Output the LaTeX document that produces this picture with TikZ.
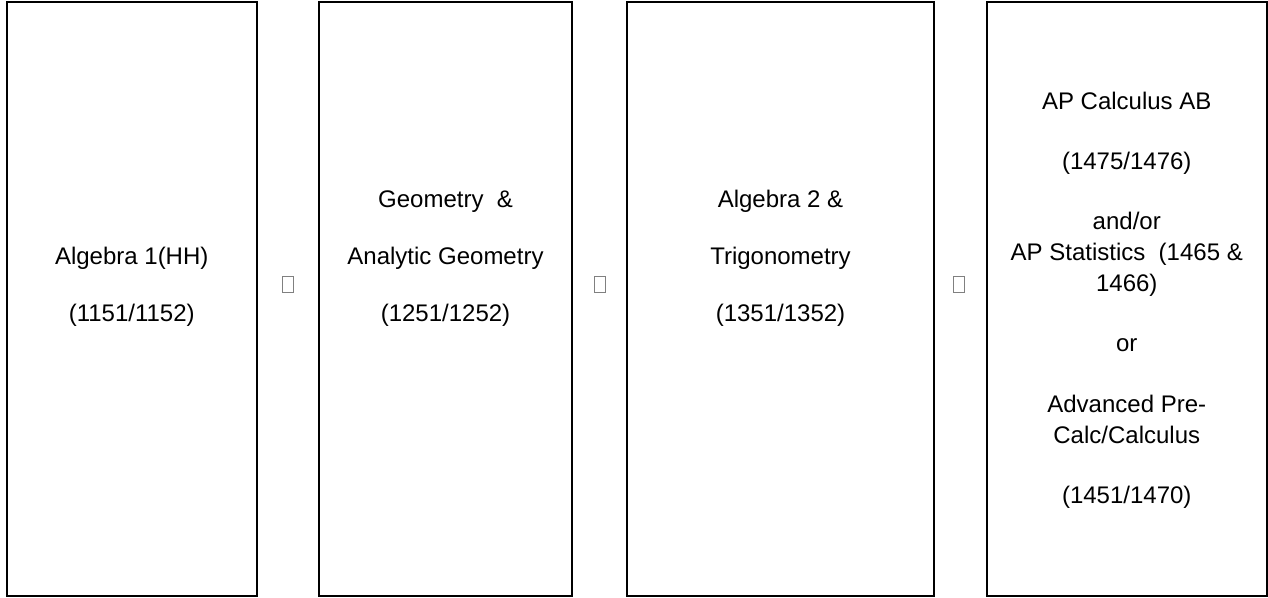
\documentclass[tikz,border=0pt]{standalone}
\usepackage{fontspec}
\setmainfont{Liberation Sans}
\begin{document}
\begin{tikzpicture}[x=0.5pt,y=-0.5pt,
  course/.style={draw, line width=1pt, inner sep=0pt, minimum height=296.75pt},
  lbl/.style={font=\fontsize{12pt}{14pt}\selectfont, inner sep=0pt, anchor=base},
  tofu/.style={draw=gray, line width=0.5pt, minimum width=5.5pt, minimum height=8pt, inner sep=0pt}]
\useasboundingbox (0,0) rectangle (1268,598);
% boxes
\node[course, minimum width=125.25pt] (b1) at (131.75,299.25) {};
\node[course, minimum width=126.5pt]  (b2) at (445.5,299.25) {};
\node[course, minimum width=153.5pt]  (b3) at (780.5,299.25) {};
\node[course, minimum width=139.75pt] (b4) at (1126.75,299.25) {};
% missing-glyph boxes between
\node[tofu] (t1) at (287.5,285) {};
\node[tofu] (t2) at (599.5,285) {};
\node[tofu] (t3) at (959,285) {};
% box 1
\node[lbl] (a1) at (131.75,265) {Algebra 1(HH)};
\node[lbl] (a2) at (131.75,322) {(1151/1152)};
% box 2
\node[lbl] (g1) at (445.5,208) {Geometry \ \&};
\node[lbl] (g2) at (445.5,265) {Analytic Geometry};
\node[lbl] (g3) at (445.5,322) {(1251/1252)};
% box 3
\node[lbl] (c1) at (780.5,208) {Algebra 2 \&};
\node[lbl] (c2) at (780.5,265) {Trigonometry};
\node[lbl] (c3) at (780.5,322) {(1351/1352)};
% box 4
\node[lbl] (d1) at (1126.75,110) {AP Calculus AB};
\node[lbl] (d2) at (1126.75,170) {(1475/1476)};
\node[lbl] (d3) at (1126.75,230) {and/or};
\node[lbl] (d4) at (1126.75,261) {AP Statistics \ (1465 \&};
\node[lbl] (d5) at (1126.75,292) {1466)};
\node[lbl] (d6) at (1126.75,352) {or};
\node[lbl] (d7) at (1126.75,412) {Advanced Pre-};
\node[lbl] (d8) at (1126.75,443) {Calc/Calculus};
\node[lbl] (d9) at (1126.75,503) {(1451/1470)};
\end{tikzpicture}
\end{document}
